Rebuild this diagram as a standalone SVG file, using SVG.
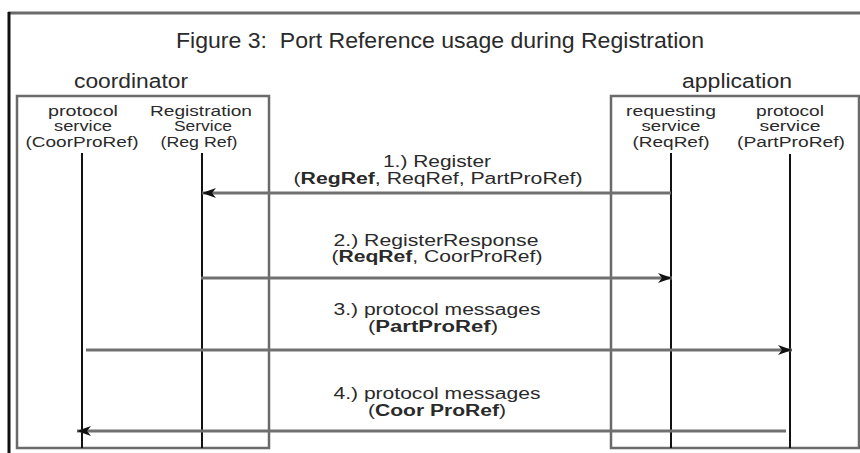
<svg xmlns="http://www.w3.org/2000/svg" width="860" height="453" viewBox="0 0 860 453">
  <style>
    text { font-family: "Liberation Sans", Arial, sans-serif; fill: #2a2a2a; }
    .title { font-size: 22px; }
    .party { font-size: 20px; }
    .head { font-size: 14px; text-anchor: middle; }
    .msg { font-size: 16px; text-anchor: middle; }
    .b { font-weight: bold; }
    .frame { fill: none; stroke: #6a6a6a; stroke-width: 2.5; }
    .life { stroke: #111; stroke-width: 2; }
    .call { stroke: #707070; stroke-width: 3; fill: none; marker-end: url(#arrow); }
  </style>
  <defs>
    <marker id="arrow" viewBox="0 0 14 10" refX="14" refY="5" markerWidth="14" markerHeight="10" markerUnits="userSpaceOnUse" orient="auto">
      <path d="M0,0 L14,5 L0,10 L4,5 Z" fill="#111"/>
    </marker>
  </defs>

  <rect width="860" height="453" fill="#fff"/>

  <!-- page frame (top and left edges) -->
  <line x1="8" y1="13" x2="860" y2="13" stroke="#6a6a6a" stroke-width="3"/>
  <line x1="9" y1="12" x2="9" y2="453" stroke="#111" stroke-width="3"/>

  <text class="title" x="176" y="48" xml:space="preserve" textLength="528" lengthAdjust="spacingAndGlyphs">Figure 3:  Port Reference usage during Registration</text>

  <g id="coordinator">
    <text class="party" x="74" y="88" textLength="114" lengthAdjust="spacingAndGlyphs">coordinator</text>
    <rect class="frame" x="17" y="96" width="252" height="352"/>
  </g>

  <g id="application">
    <text class="party" x="682" y="88" textLength="110" lengthAdjust="spacingAndGlyphs">application</text>
    <rect class="frame" x="611" y="96" width="248" height="352"/>
  </g>

  <g id="coor-protocol-service">
    <text class="head" x="83" y="116" textLength="70" lengthAdjust="spacingAndGlyphs">protocol</text>
    <text class="head" x="83" y="131" textLength="58" lengthAdjust="spacingAndGlyphs">service</text>
    <text class="head" x="82" y="147" textLength="113" lengthAdjust="spacingAndGlyphs">(CoorProRef)</text>
    <line class="life" x1="82" y1="153" x2="82" y2="448"/>
  </g>

  <g id="registration-service">
    <text class="head" x="201" y="116" textLength="102" lengthAdjust="spacingAndGlyphs">Registration</text>
    <text class="head" x="203" y="131" textLength="58" lengthAdjust="spacingAndGlyphs">Service</text>
    <text class="head" x="199" y="147" textLength="77" lengthAdjust="spacingAndGlyphs">(Reg Ref)</text>
    <line class="life" x1="202" y1="153" x2="202" y2="448"/>
  </g>

  <g id="requesting-service">
    <text class="head" x="671" y="116" textLength="90" lengthAdjust="spacingAndGlyphs">requesting</text>
    <text class="head" x="671" y="131" textLength="59" lengthAdjust="spacingAndGlyphs">service</text>
    <text class="head" x="671" y="147" textLength="77" lengthAdjust="spacingAndGlyphs">(ReqRef)</text>
    <line class="life" x1="671" y1="153" x2="671" y2="448"/>
  </g>

  <g id="part-protocol-service">
    <text class="head" x="790" y="116" textLength="68" lengthAdjust="spacingAndGlyphs">protocol</text>
    <text class="head" x="790" y="131" textLength="61" lengthAdjust="spacingAndGlyphs">service</text>
    <text class="head" x="791" y="147" textLength="108" lengthAdjust="spacingAndGlyphs">(PartProRef)</text>
    <line class="life" x1="790" y1="154" x2="790" y2="448"/>
  </g>

  <g id="messages">
    <line class="call" x1="671" y1="193" x2="202" y2="193"/>
    <line class="call" x1="201" y1="278" x2="672" y2="278"/>
    <line class="call" x1="86" y1="350" x2="792" y2="350"/>
    <line class="call" x1="786" y1="431" x2="77" y2="431"/>

    <text class="msg" x="437" y="167" textLength="108" lengthAdjust="spacingAndGlyphs">1.) Register</text>
    <text class="msg" x="438" y="184" textLength="289" lengthAdjust="spacingAndGlyphs">(<tspan class="b">RegRef</tspan>, ReqRef, PartProRef)</text>

    <text class="msg" x="436" y="246" textLength="205" lengthAdjust="spacingAndGlyphs">2.) RegisterResponse</text>
    <text class="msg" x="437" y="262" textLength="211" lengthAdjust="spacingAndGlyphs">(<tspan class="b">ReqRef</tspan>, CoorProRef)</text>

    <text class="msg" x="437" y="315" textLength="207" lengthAdjust="spacingAndGlyphs">3.) protocol messages</text>
    <text class="msg" x="433" y="332" textLength="130" lengthAdjust="spacingAndGlyphs">(<tspan class="b">PartProRef</tspan>)</text>

    <text class="msg" x="437" y="399" textLength="207" lengthAdjust="spacingAndGlyphs">4.) protocol messages</text>
    <text class="msg" x="437" y="416" textLength="138" lengthAdjust="spacingAndGlyphs">(<tspan class="b">Coor ProRef</tspan>)</text>
  </g>
</svg>
